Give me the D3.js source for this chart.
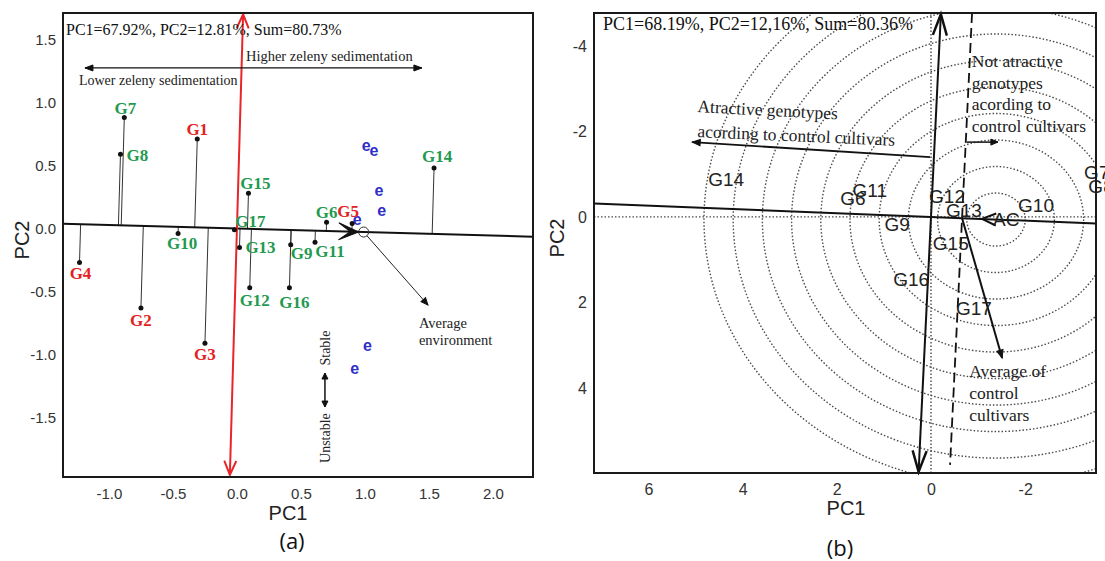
<!DOCTYPE html>
<html>
<head>
<meta charset="utf-8">
<script src="https://cdn.jsdelivr.net/npm/d3@7"></script>
<style>
  body { margin: 0; background: #fff; }
  text { font-kerning: normal; }
</style>
</head>
<body>
<svg id="fig" width="1105" height="561"></svg>
<script>
// ---------- Panel (a): GGE biplot, average-environment coordination ----------
const genotypesA = ["G1","G2","G3","G4","G5","G6","G7","G8","G9","G10","G11","G12","G13","G14","G15","G16","G17"];
const pc1A = [-0.31, -0.75, -0.25, -1.23, 0.90, 0.70, -0.88, -0.91, 0.42, -0.46, 0.61, 0.10, 0.02, 1.54, 0.09, 0.41, -0.02];
const pc2A = [ 0.71, -0.63, -0.91, -0.27, 0.04, 0.05,  0.88,  0.59, -0.13, -0.04, -0.11, -0.47, -0.15, 0.48, 0.28, -0.47, -0.01];
const controlsA = ["G1","G2","G3","G4","G5"];
const envPc1A = [1.01, 1.07, 1.11, 1.13, 0.94, 1.02, 0.92];
const envPc2A = [0.66, 0.62, 0.30, 0.14, 0.07, -0.93, -1.11];
const avgEnvA = [0.99, -0.028];
const xTicksA = [-1.0, -0.5, 0.0, 0.5, 1.0, 1.5, 2.0];
const yTicksA = [-1.5, -1.0, -0.5, 0.0, 0.5, 1.0, 1.5];
const titleA = "PC1=67.92%, PC2=12.81%, Sum=80.73%";

// ---------- Panel (b): ranking against the average of control cultivars ----------
const genotypesB = ["G14","G11","G6","G12","G13","G10","G9","G15","G16","G17","G7","G8"];
const pc1B = [4.35, 1.30, 1.66, -0.34, -0.70, -2.23, 0.72, -0.42, 0.42, -0.91, -3.52, -3.61];
const pc2B = [-0.89, -0.63, -0.44, -0.47, -0.16, -0.26, 0.17, 0.61, 1.47, 2.13, -1.05, -0.72];
const avgControlB = [-1.38, 0.061];
const ringStepB = 0.62;
const ringCountB = 10;
const xTicksB = [6, 4, 2, 0, -2];
const yTicksB = [-4, -2, 0, 2, 4];
const titleB = "PC1=68.19%, PC2=12,16%, Sum=80.36%";

const SERIF = "'Liberation Serif', 'Times New Roman', serif";
const SANS = "'Liberation Sans', Arial, sans-serif";

const svg = d3.select("#fig");
const defs = svg.append("defs");

// arrowhead drawn at `to`, pointing away from `from` (pixel coordinates)
function arrowHead(g, from, to, o) {
  const ang = Math.atan2(to[1] - from[1], to[0] - from[0]) * 180 / Math.PI;
  const L = o.len, W = o.width;
  let d;
  if (o.type === "open") d = `M${-L},${-W}L0,0L${-L},${W}`;
  else if (o.type === "barbed") d = `M0,0L${-L},${-W}L${-L * 0.42},0L${-L},${W}Z`;
  else d = `M0,0L${-L},${-W}L${-L},${W}Z`;
  g.append("path")
    .attr("d", d)
    .attr("transform", `translate(${to[0]},${to[1]}) rotate(${ang})`)
    .attr("fill", o.type === "open" ? "none" : (o.color || "#111"))
    .attr("stroke", o.color || "#111")
    .attr("stroke-width", o.stroke || 1)
    .attr("stroke-linejoin", "miter");
}

function fmt1(v) { return v.toFixed(1); }

// ================= Panel (a) =================
{
  const box = { x0: 63, y0: 13, x1: 533, y1: 477 };
  const x = d3.scaleLinear().domain([-1.359, 2.313]).range([box.x0, box.x1]);
  const y = d3.scaleLinear().domain([-1.972, 1.710]).range([box.y1, box.y0]);
  const g = svg.append("g");
  const P = (a, b) => [x(a), y(b)];

  defs.append("clipPath").attr("id", "clipA")
    .append("rect").attr("x", box.x0).attr("y", box.y0)
    .attr("width", box.x1 - box.x0).attr("height", box.y1 - box.y0);
  const inner = g.append("g").attr("clip-path", "url(#clipA)");

  // axes (labels only)
  const ax = g.append("g").attr("transform", `translate(0,${box.y1})`)
    .call(d3.axisBottom(x).tickValues(xTicksA).tickSize(0).tickPadding(11).tickFormat(fmt1));
  const ay = g.append("g").attr("transform", `translate(${box.x0},0)`)
    .call(d3.axisLeft(y).tickValues(yTicksA).tickSize(0).tickPadding(7).tickFormat(fmt1));
  [ax, ay].forEach(a => {
    a.select(".domain").remove();
    a.selectAll("text").attr("font-family", SANS).attr("font-size", 15).attr("fill", "#333");
  });

  // unit vector of the average-environment axis
  const n = Math.hypot(avgEnvA[0], avgEnvA[1]);
  const ux = avgEnvA[0] / n, uy = avgEnvA[1] / n;

  // projections of genotypes onto the AEC abscissa
  genotypesA.forEach((name, i) => {
    const t = pc1A[i] * ux + pc2A[i] * uy;
    inner.append("line")
      .attr("x1", x(pc1A[i])).attr("y1", y(pc2A[i]))
      .attr("x2", x(t * ux)).attr("y2", y(t * uy))
      .attr("stroke", "#333").attr("stroke-width", 1);
  });

  // AEC abscissa through origin and average environment
  const xl = x.domain()[0], xr = x.domain()[1];
  inner.append("line")
    .attr("x1", x(xl)).attr("y1", y(xl * uy / ux))
    .attr("x2", x(xr)).attr("y2", y(xr * uy / ux))
    .attr("stroke", "#111").attr("stroke-width", 2);

  // AEC ordinate (red, double headed)
  const px = -uy, py = ux;
  const yTop = 1.70, yBot = -1.955;
  const top = P(px * yTop / py, yTop), bot = P(px * yBot / py, yBot);
  g.append("line").attr("x1", bot[0]).attr("y1", bot[1]).attr("x2", top[0]).attr("y2", top[1])
    .attr("stroke", "#e8262a").attr("stroke-width", 2);
  arrowHead(g, bot, top, { type: "open", len: 14, width: 6, color: "#e8262a", stroke: 2 });
  arrowHead(g, top, bot, { type: "open", len: 14, width: 6, color: "#e8262a", stroke: 2 });

  // average environment marker
  const ae = P(avgEnvA[0], avgEnvA[1]);
  g.append("circle").attr("cx", ae[0]).attr("cy", ae[1]).attr("r", 5)
    .attr("fill", "none").attr("stroke", "#333").attr("stroke-width", 1);
  const tip = [ae[0] - 5 * ux, ae[1] + 5 * uy];
  arrowHead(g, P(0, 0), tip, { type: "barbed", len: 20, width: 8.5, color: "#111" });

  // pointer to the "Average environment" note
  const noteTip = P(1.492, -0.607);
  const dirN = [noteTip[0] - ae[0], noteTip[1] - ae[1]];
  const ln = Math.hypot(dirN[0], dirN[1]);
  const st = [ae[0] + dirN[0] / ln * 5, ae[1] + dirN[1] / ln * 5];
  g.append("line").attr("x1", st[0]).attr("y1", st[1]).attr("x2", noteTip[0]).attr("y2", noteTip[1])
    .attr("stroke", "#222").attr("stroke-width", 1);
  arrowHead(g, st, noteTip, { type: "filled", len: 7, width: 3 });
  g.append("text").attr("x", noteTip[0] - 9).attr("y", noteTip[1] + 23)
    .attr("font-family", SERIF).attr("font-size", 14.5).attr("fill", "#222").text("Average");
  g.append("text").attr("x", noteTip[0] - 9).attr("y", noteTip[1] + 40)
    .attr("font-family", SERIF).attr("font-size", 14.5).attr("fill", "#222").text("environment");

  // zeleny sedimentation arrow
  const sL = P(-1.1875, 1.274), sR = P(1.445, 1.274);
  g.append("line").attr("x1", sL[0]).attr("y1", sL[1]).attr("x2", sR[0]).attr("y2", sR[1])
    .attr("stroke", "#111").attr("stroke-width", 1.3);
  arrowHead(g, sR, sL, { type: "filled", len: 8, width: 3 });
  arrowHead(g, sL, sR, { type: "filled", len: 8, width: 3 });
  g.append("text").attr("x", sL[0] + 161).attr("y", sL[1] - 7)
    .attr("font-family", SERIF).attr("font-size", 14.5).attr("fill", "#222")
    .text("Higher zeleny sedimentation");
  g.append("text").attr("x", sL[0] - 6).attr("y", sL[1] + 17)
    .attr("font-family", SERIF).attr("font-size", 14).attr("fill", "#222")
    .text("Lower zeleny sedimentation");

  // stability arrow
  const stU = P(0.6875, -1.147), stD = P(0.6875, -1.417);
  g.append("line").attr("x1", stU[0]).attr("y1", stU[1]).attr("x2", stD[0]).attr("y2", stD[1])
    .attr("stroke", "#111").attr("stroke-width", 1.5);
  arrowHead(g, stD, stU, { type: "filled", len: 6, width: 3 });
  arrowHead(g, stU, stD, { type: "filled", len: 6, width: 3 });
  g.append("text").attr("transform", `translate(${stU[0] + 5},${stU[1] - 25}) rotate(-90)`)
    .attr("text-anchor", "middle").attr("font-family", SERIF).attr("font-size", 14)
    .attr("fill", "#222").text("Stable");
  g.append("text").attr("transform", `translate(${stD[0] + 5},${stD[1] + 31}) rotate(-90)`)
    .attr("text-anchor", "middle").attr("font-family", SERIF).attr("font-size", 14)
    .attr("fill", "#222").text("Unstable");

  // environments
  envPc1A.forEach((v, i) => {
    g.append("text").attr("x", x(v)).attr("y", y(envPc2A[i])).attr("dy", "0.35em")
      .attr("text-anchor", "middle").attr("font-family", SANS).attr("font-weight", "bold")
      .attr("font-size", 16).attr("fill", "#2f2fc8").text("e");
  });

  // genotype points and labels
  const labelOffsetA = {
    G1: [0, -10], G2: [0, 12], G3: [0, 11], G4: [1, 11], G5: [-4, -12], G6: [0, -10],
    G7: [1, -10], G8: [17, 1], G9: [11, 8], G10: [4, 10], G11: [15, 9], G12: [5, 12],
    G13: [21, 0], G14: [3, -12], G15: [7, -10], G16: [5, 14], G17: [16, -9]
  };
  genotypesA.forEach((name, i) => {
    const cx = x(pc1A[i]), cy = y(pc2A[i]);
    g.append("circle").attr("cx", cx).attr("cy", cy).attr("r", 2.5).attr("fill", "#111");
    const off = labelOffsetA[name];
    g.append("text").attr("x", cx + off[0]).attr("y", cy + off[1]).attr("dy", "0.35em")
      .attr("text-anchor", "middle").attr("font-family", SERIF).attr("font-weight", "bold")
      .attr("font-size", 17)
      .attr("fill", controlsA.includes(name) ? "#e32222" : "#1f9a50").text(name);
  });

  g.append("text").attr("x", box.x0 + 3).attr("y", 35)
    .attr("font-family", SERIF).attr("font-size", 16).attr("fill", "#111").text(titleA);

  g.append("rect").attr("x", box.x0).attr("y", box.y0)
    .attr("width", box.x1 - box.x0).attr("height", box.y1 - box.y0)
    .attr("fill", "none").attr("stroke", "#1a1a1a").attr("stroke-width", 2);

  g.append("text").attr("x", 288).attr("y", 520).attr("text-anchor", "middle")
    .attr("font-family", SANS).attr("font-size", 20).attr("fill", "#222").text("PC1");
  g.append("text").attr("transform", "translate(29,240) rotate(-90)").attr("text-anchor", "middle")
    .attr("font-family", SANS).attr("font-size", 20).attr("fill", "#222").text("PC2");
  g.append("text").attr("x", 292).attr("y", 549).attr("text-anchor", "middle")
    .attr("font-family", "'Open Sans', sans-serif").attr("font-size", 22).attr("fill", "#111").text("(a)");
}

// ================= Panel (b) =================
{
  const box = { x0: 594, y0: 13, x1: 1096, y1: 473 };
  const x = d3.scaleLinear().domain([7.155, -3.503]).range([box.x0, box.x1]);
  const y = d3.scaleLinear().domain([-4.77, 5.99]).range([box.y0, box.y1]);
  const g = svg.append("g");
  const P = (a, b) => [x(a), y(b)];

  defs.append("clipPath").attr("id", "clipB")
    .append("rect").attr("x", box.x0).attr("y", box.y0)
    .attr("width", box.x1 - box.x0).attr("height", box.y1 - box.y0);
  const inner = g.append("g").attr("clip-path", "url(#clipB)");

  const ax = g.append("g").attr("transform", `translate(0,${box.y1})`)
    .call(d3.axisBottom(x).tickValues(xTicksB).tickSize(0).tickPadding(11).tickFormat(d => String(d)));
  const ay = g.append("g").attr("transform", `translate(${box.x0},0)`)
    .call(d3.axisLeft(y).tickValues(yTicksB).tickSize(0).tickPadding(7).tickFormat(d => String(d)));
  [ax, ay].forEach(a => {
    a.select(".domain").remove();
    a.selectAll("text").attr("font-family", SANS).attr("font-size", 16).attr("fill", "#333");
  });

  // concentric rings around the average of control cultivars
  const ac = P(avgControlB[0], avgControlB[1]);
  const dotted = sel => sel.attr("fill", "none").attr("stroke", "#4a4a4a")
    .attr("stroke-width", 1.4).attr("stroke-dasharray", "1.5 2");
  for (let k = 1; k <= ringCountB; k++) {
    const r = k * ringStepB;
    inner.append("ellipse").attr("cx", ac[0]).attr("cy", ac[1])
      .attr("rx", Math.abs(x(r) - x(0))).attr("ry", Math.abs(y(r) - y(0)))
      .call(dotted);
  }
  // dotted reference axes
  inner.append("line").attr("x1", box.x0).attr("x2", box.x1).attr("y1", y(0)).attr("y2", y(0)).call(dotted);
  inner.append("line").attr("y1", box.y0).attr("y2", box.y1).attr("x1", x(0)).attr("x2", x(0)).call(dotted);

  // axis through origin and the control average
  const n = Math.hypot(avgControlB[0], avgControlB[1]);
  const ux = avgControlB[0] / n, uy = avgControlB[1] / n;
  const xl = x.domain()[0], xr = x.domain()[1];
  inner.append("line")
    .attr("x1", x(xl)).attr("y1", y(xl * uy / ux))
    .attr("x2", x(xr)).attr("y2", y(xr * uy / ux))
    .attr("stroke", "#111").attr("stroke-width", 2);

  // perpendicular through origin, arrowed both ends
  const px = -uy, py = ux;
  const yT = -4.74, yB = 5.96;
  const top = P(px * yT / py, yT), bot = P(px * yB / py, yB);
  g.append("line").attr("x1", top[0]).attr("y1", top[1]).attr("x2", bot[0]).attr("y2", bot[1])
    .attr("stroke", "#111").attr("stroke-width", 2);
  arrowHead(g, bot, top, { type: "open", len: 21, width: 7, stroke: 2.5 });
  arrowHead(g, top, bot, { type: "open", len: 21, width: 7, stroke: 2.5 });

  // dashed divider
  const t0 = 0.66;
  const c0 = [t0 * ux, t0 * uy];
  const dT = -4.77, dB = 5.8;
  const dTop = P(c0[0] + px * (dT - c0[1]) / py, dT), dBot = P(c0[0] + px * (dB - c0[1]) / py, dB);
  g.append("line").attr("x1", dTop[0]).attr("y1", dTop[1]).attr("x2", dBot[0]).attr("y2", dBot[1])
    .attr("stroke", "#111").attr("stroke-width", 1.8).attr("stroke-dasharray", "10 5");

  // control-average chevron and label
  const chevTip = [ac[0] - 14, ac[1] - 14 * uy / Math.abs(ux)];
  arrowHead(g, ac, chevTip, { type: "open", len: 14, width: 6, stroke: 2 });
  g.append("text").attr("x", ac[0] - 3).attr("y", ac[1]).attr("dy", "0.35em")
    .attr("font-family", SANS).attr("font-size", 19).attr("fill", "#222").text("AC");

  // "attractive" arrow
  const aS = P(0.02, -1.40), aE = P(5.07, -1.75);
  g.append("line").attr("x1", aS[0]).attr("y1", aS[1]).attr("x2", aE[0]).attr("y2", aE[1])
    .attr("stroke", "#111").attr("stroke-width", 1.8);
  arrowHead(g, aS, aE, { type: "filled", len: 8, width: 3.2 });
  g.append("text").attr("transform", `translate(${aE[0] + 5},${aE[1] - 30}) rotate(3)`)
    .attr("font-family", SERIF).attr("font-size", 17.5).attr("fill", "#222")
    .text("Atractive genotypes");
  g.append("text").attr("transform", `translate(${aE[0] + 5},${aE[1] - 5}) rotate(2.5)`)
    .attr("font-family", SERIF).attr("font-size", 17.5).attr("fill", "#222")
    .text("acording to control cultivars");

  // "not attractive" arrow
  const nS = P(-0.76, -1.75), nE = P(-1.42, -1.75);
  g.append("line").attr("x1", nS[0]).attr("y1", nS[1]).attr("x2", nE[0]).attr("y2", nE[1])
    .attr("stroke", "#111").attr("stroke-width", 1.5);
  arrowHead(g, nS, nE, { type: "filled", len: 7, width: 3 });
  ["Not atractive", "genotypes", "acording to", "control cultivars"].forEach((s, i) => {
    g.append("text").attr("x", nS[0] + 5).attr("y", 67 + i * 21.7)
      .attr("font-family", SERIF).attr("font-size", 17.5).attr("fill", "#222").text(s);
  });

  // pointer to "Average of control cultivars"
  const cS = P(-0.66, 0.03), cE = P(-1.51, 3.30);
  g.append("line").attr("x1", cS[0]).attr("y1", cS[1]).attr("x2", cE[0]).attr("y2", cE[1])
    .attr("stroke", "#111").attr("stroke-width", 2);
  arrowHead(g, cS, cE, { type: "filled", len: 8, width: 3.2 });
  ["Average of", "control", "cultivars"].forEach((s, i) => {
    g.append("text").attr("x", cE[0] - 33).attr("y", cE[1] + 19 + i * 22)
      .attr("font-family", SERIF).attr("font-size", 17.5).attr("fill", "#222").text(s);
  });

  // genotype labels
  genotypesB.forEach((name, i) => {
    g.append("text").attr("x", x(pc1B[i])).attr("y", y(pc2B[i])).attr("dy", "0.35em")
      .attr("text-anchor", "middle").attr("font-family", SANS).attr("font-size", 19)
      .attr("fill", "#222").text(name);
  });

  g.append("text").attr("x", 603).attr("y", 30)
    .attr("font-family", SERIF).attr("font-size", 18).attr("fill", "#111").text(titleB);

  g.append("rect").attr("x", box.x0).attr("y", box.y0)
    .attr("width", box.x1 - box.x0).attr("height", box.y1 - box.y0)
    .attr("fill", "none").attr("stroke", "#1a1a1a").attr("stroke-width", 2);

  g.append("text").attr("x", 846).attr("y", 515).attr("text-anchor", "middle")
    .attr("font-family", SANS).attr("font-size", 20).attr("fill", "#222").text("PC1");
  g.append("text").attr("transform", "translate(564,238) rotate(-90)").attr("text-anchor", "middle")
    .attr("font-family", SANS).attr("font-size", 20).attr("fill", "#222").text("PC2");
  g.append("text").attr("x", 840).attr("y", 556).attr("text-anchor", "middle")
    .attr("font-family", "'Open Sans', sans-serif").attr("font-size", 22).attr("fill", "#111").text("(b)");
}
</script>
</body>
</html>
